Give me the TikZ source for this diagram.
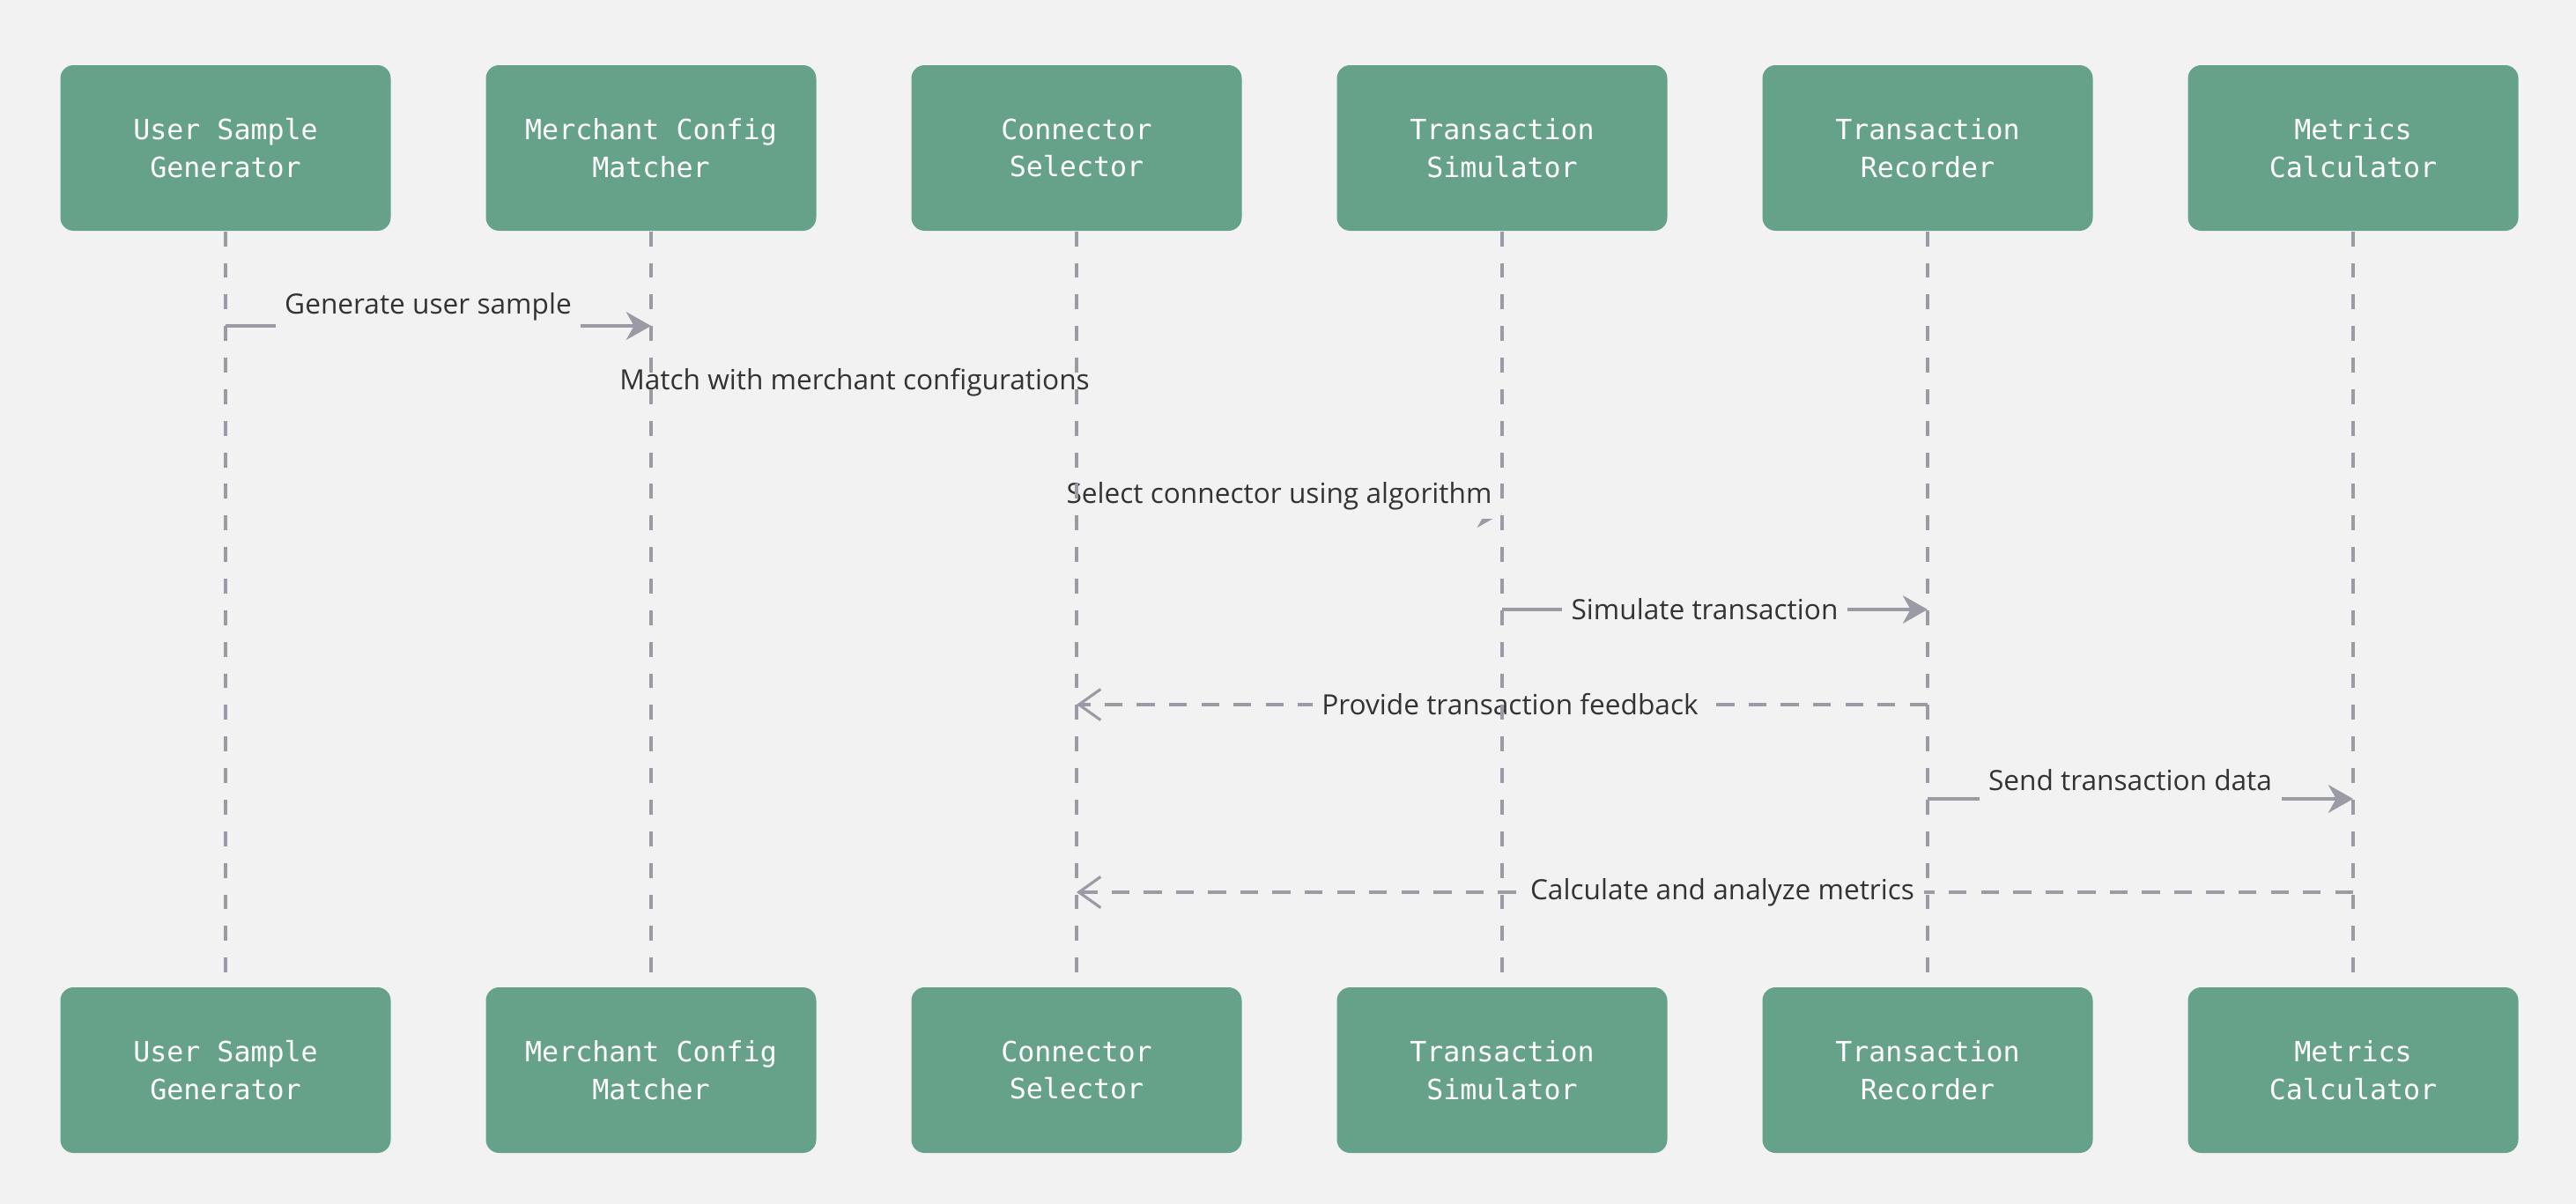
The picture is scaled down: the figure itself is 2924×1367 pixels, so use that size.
\documentclass[tikz,border=0pt]{standalone}
\usepackage{fontspec}
\setmainfont{Open Sans}
\setmonofont{DejaVu Sans Mono}
\definecolor{seqbg}{HTML}{F2F2F2}
\definecolor{seqgreen}{HTML}{66A28A}
\definecolor{seqgray}{HTML}{9A9BA5}
\definecolor{seqtext}{HTML}{333333}
\usetikzlibrary{arrows.meta,positioning}

\begin{document}
\begin{tikzpicture}[x=0.1mm, y=-0.1mm,
    actor/.style={fill=seqgreen, rounded corners=1.5mm, minimum width=37.5mm, minimum height=18.8mm,
        inner sep=0pt, align=center, text=white, font=\ttfamily\fontsize{9}{12.2}\selectfont},
    lifeline/.style={seqgray, line width=1.1pt, dash pattern=on 4.8pt off 5.4pt},
    msg/.style={seqgray, line width=1.2pt, -{Stealth[length=8pt, width=9pt, inset=2.5pt]}},
    reply/.style={seqgray, line width=1.2pt, dash pattern=on 5.8pt off 4.6pt,
        -{Straight Barb[length=7pt, width=10pt, line width=0.9pt]}},
    lbl/.style={fill=seqbg, text=seqtext, inner sep=3pt, font=\fontsize{9}{11}\selectfont}]
    \fill[seqbg] (0,0) rectangle (2924,1367);

    % participants, top row
    \node[actor] (genTop) at (256,168) {User Sample\\Generator};
    \node[actor] (matchTop) at (739,168) {Merchant Config\\Matcher};
    \node[actor] (selTop) at (1222,168) {Connector\\Selector};
    \node[actor] (simTop) at (1705,168) {Transaction\\Simulator};
    \node[actor] (recTop) at (2188,168) {Transaction\\Recorder};
    \node[actor] (metTop) at (2671,168) {Metrics\\Calculator};

    % participants, bottom row
    \node[actor] (genBot) at (256,1215) {User Sample\\Generator};
    \node[actor] (matchBot) at (739,1215) {Merchant Config\\Matcher};
    \node[actor] (selBot) at (1222,1215) {Connector\\Selector};
    \node[actor] (simBot) at (1705,1215) {Transaction\\Simulator};
    \node[actor] (recBot) at (2188,1215) {Transaction\\Recorder};
    \node[actor] (metBot) at (2671,1215) {Metrics\\Calculator};

    % messages
    \draw[msg] (genTop |- 0,370) -- (matchTop |- 0,370);
    \node[lbl] (genMsg) at (486,348) {Generate user sample};

    \draw[msg] (matchTop |- 0,434) -- (selTop |- 0,434);
    \node[lbl] (matchMsg) at (970,434) {Match with merchant configurations};

    \draw[msg] (selTop |- 0,583) -- (simTop |- 0,583);
    \node[lbl] (selMsg) at (1452,563) {Select connector using algorithm};

    \draw[msg] (simTop |- 0,692) -- (recTop |- 0,692);
    \node[lbl] (simMsg) at (1935,692) {Simulate transaction};

    \draw[reply] (recTop |- 0,800) -- (selTop |- 0,800);
    \node[lbl] (recMsg) at (1714,800) {Provide transaction feedback};

    \draw[msg] (recTop |- 0,907) -- (metTop |- 0,907);
    \node[lbl] (sendMsg) at (2418,886) {Send transaction data};

    \draw[reply] (metTop |- 0,1013) -- (selTop |- 0,1013);
    \node[lbl] (metMsg) at (1955,1013) {Calculate and analyze metrics};

    % lifelines
    \draw[lifeline] (genTop.south) -- (genBot.north);
    \draw[lifeline] (matchTop.south) -- (matchBot.north);
    \draw[lifeline] (selTop.south) -- (selBot.north);
    \draw[lifeline] (simTop.south) -- (simBot.north);
    \draw[lifeline] (recTop.south) -- (recBot.north);
    \draw[lifeline] (metTop.south) -- (metBot.north);
\end{tikzpicture}
\end{document}
